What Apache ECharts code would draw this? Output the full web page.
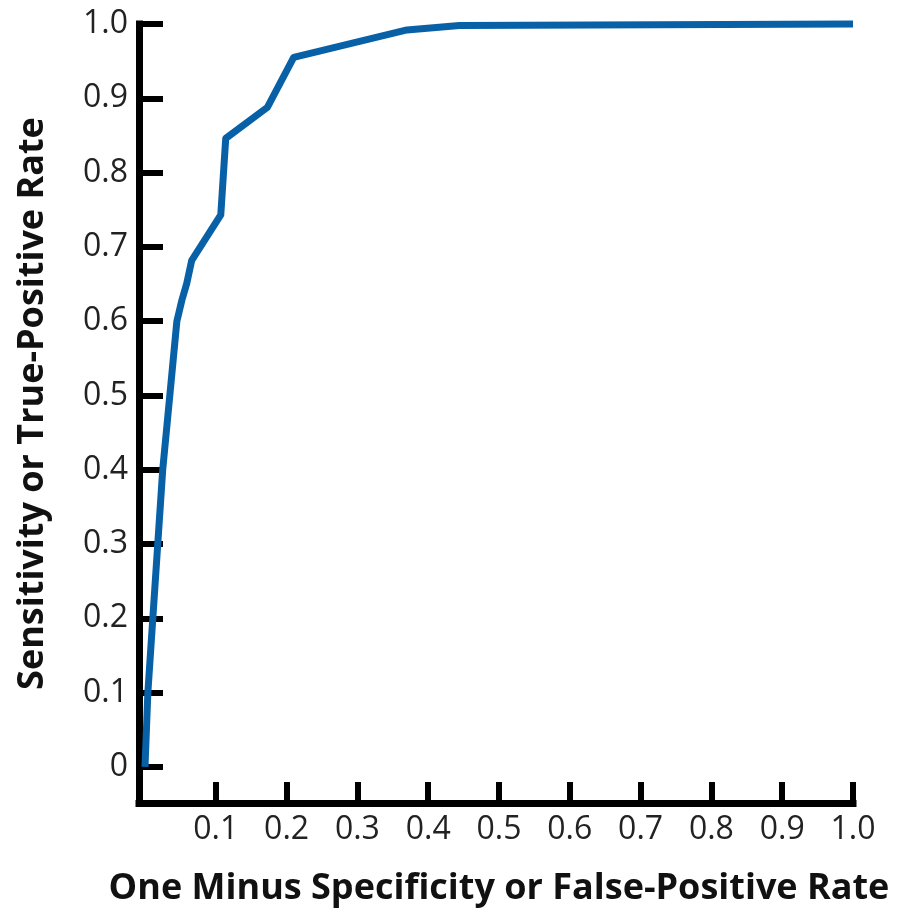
<!DOCTYPE html>
<html>
<head>
<meta charset="utf-8">
<script src="https://cdn.jsdelivr.net/npm/echarts@6/dist/echarts.min.js"></script>
<style>html,body{margin:0;padding:0;background:#fff}#c{width:900px;height:920px}</style>
</head>
<body>
<div id="c"></div>
<script>
const fprValues = [0, 0.004, 0.011, 0.018, 0.025, 0.035, 0.045, 0.052, 0.059, 0.066, 0.107, 0.114, 0.173, 0.210, 0.370, 0.444, 1.0];
const tprValues = [0, 0.10, 0.20, 0.30, 0.40, 0.50, 0.60, 0.628, 0.651, 0.682, 0.743, 0.846, 0.888, 0.955, 0.992, 0.998, 1.0];
const xTickValues = [0.1, 0.2, 0.3, 0.4, 0.5, 0.6, 0.7, 0.8, 0.9, 1.0];
const yTickValues = [0, 0.1, 0.2, 0.3, 0.4, 0.5, 0.6, 0.7, 0.8, 0.9, 1.0];
const xTitle = 'One Minus Specificity or False-Positive Rate';
const yTitle = 'Sensitivity or True-Positive Rate';

const chart = echarts.init(document.getElementById('c'), null, {renderer: 'canvas'});
const axisColor = '#000';
chart.setOption({
  animation: false,
  backgroundColor: '#fff',
  grid: {left: 139, right: 47, top: 24, bottom: 117, containLabel: false},
  xAxis: {
    type: 'value', min: -0.0085, max: 1.0,
    name: xTitle, nameLocation: 'middle', nameGap: 68,
    nameTextStyle: {fontFamily: 'Open Sans', fontWeight: 'bold', fontSize: 36, color: '#111', padding: [0, 0, 0, 6]},
    axisLine: {show: true, onZero: false, lineStyle: {color: axisColor, width: 7, cap: 'square'}},
    axisTick: {show: true, inside: true, length: 21, lineStyle: {color: axisColor, width: 6}, customValues: xTickValues},
    axisLabel: {show: true, margin: 11, fontFamily: 'Open Sans', fontSize: 32, color: '#222',
      customValues: xTickValues, formatter: v => v.toFixed(1)},
    splitLine: {show: false}
  },
  yAxis: {
    type: 'value', min: -0.0485, max: 1.0,
    name: yTitle, nameLocation: 'middle', nameGap: 88, nameRotate: 90,
    nameTextStyle: {fontFamily: 'Open Sans', fontWeight: 'bold', fontSize: 36, color: '#111', padding: [0, 0, 0, 20]},
    axisLine: {show: true, onZero: false, lineStyle: {color: axisColor, width: 7, cap: 'square'}},
    axisTick: {show: true, inside: true, length: 24, lineStyle: {color: axisColor, width: 6}, customValues: yTickValues},
    axisLabel: {show: true, margin: 11, fontFamily: 'Open Sans', fontSize: 32, color: '#222',
      customValues: yTickValues, formatter: v => (v === 0 ? '0' : v.toFixed(1))},
    splitLine: {show: false}
  },
  series: [{
    type: 'line',
    data: fprValues.map((x, i) => [x, tprValues[i]]),
    symbol: 'none',
    clip: false,
    lineStyle: {color: '#0861a6', width: 7, join: 'round'},
    z: 1
  }]
});
</script>
</body>
</html>
